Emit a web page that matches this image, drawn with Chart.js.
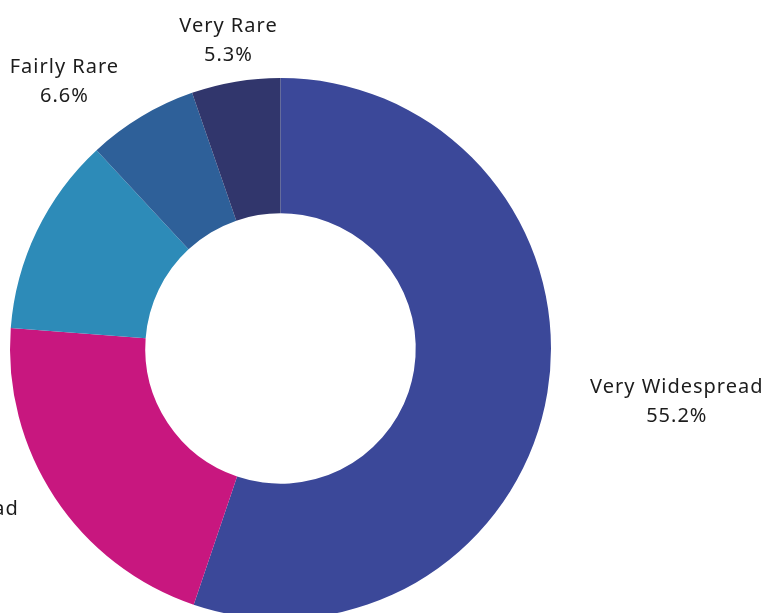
<!DOCTYPE html>
<html lang="en">
<head>
    <meta charset="UTF-8">
    <title>Distribution</title>
    <script src="https://cdn.jsdelivr.net/npm/chart.js"></script>
    <style>
        body {
            margin: 0;
            background: #ffffff;
            overflow: hidden;
        }
        .chart-box {
            position: absolute;
            left: 0;
            top: 0;
            width: 767px;
            height: 700px;
        }
    </style>
</head>
<body>
    <div class="chart-box">
        <canvas id="donut" width="767" height="700"></canvas>
    </div>

    <script>
        // Datos
        const categories = ['Very Widespread', 'Widespread', 'Fairly Widespread', 'Fairly Rare', 'Very Rare'];
        const shares = [55.2, 21.0, 11.9, 6.6, 5.3];
        const colors = ['#3b4899', '#c8177f', '#2d8bb8', '#2e6099', '#31366c'];

        // Etiquetas fuera del anillo: nombre + porcentaje
        const outLabels = {
            id: 'outLabels',
            afterDatasetsDraw(chart) {
                const ctx = chart.ctx;
                const arcs = chart.getDatasetMeta(0).data;
                ctx.save();
                ctx.font = '20px "Noto Sans"';
                ctx.letterSpacing = '1px';
                ctx.fillStyle = '#1c1c1c';
                ctx.textBaseline = 'middle';
                ctx.textAlign = 'center';
                const lineH = 29;
                arcs.forEach((arc, i) => {
                    const mid = (arc.startAngle + arc.endAngle) / 2;
                    const r = arc.outerRadius * 1.16;
                    const ax = arc.x + Math.cos(mid) * r;
                    const ay = arc.y + Math.sin(mid) * r + 2;
                    const lines = [categories[i], shares[i].toFixed(1) + '%'];
                    const w = Math.max(...lines.map(t => ctx.measureText(t).width));
                    let cx = ax;
                    if (Math.cos(mid) > 0.3) cx = ax + w / 2;
                    else if (Math.cos(mid) < -0.3) cx = ax - w / 2;
                    lines.forEach((t, k) => {
                        ctx.fillText(t, cx, ay + (k - (lines.length - 1) / 2) * lineH);
                    });
                });
                ctx.restore();
            }
        };

        new Chart(document.getElementById('donut').getContext('2d'), {
            type: 'doughnut',
            data: {
                labels: categories,
                datasets: [{
                    data: shares,
                    backgroundColor: colors,
                    borderWidth: 0
                }]
            },
            options: {
                responsive: false,
                animation: false,
                cutout: '50%',
                layout: { padding: { left: 10, top: 78, right: 216, bottom: 81 } },
                plugins: {
                    legend: { display: false },
                    tooltip: { enabled: false }
                }
            },
            plugins: [outLabels]
        });
    </script>
</body>
</html>
